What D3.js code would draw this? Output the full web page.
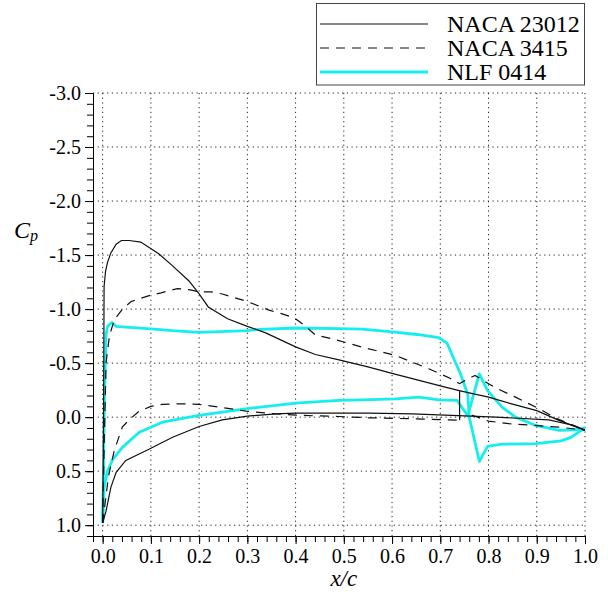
<!DOCTYPE html>
<html>
<head>
<meta charset="utf-8">
<script src="https://cdn.jsdelivr.net/npm/d3@7"></script>
<style>
  html, body { margin: 0; padding: 0; background: #fff; }
  svg { display: block; }
  text { font-family: "Liberation Serif", "Times New Roman", serif; fill: #000; }
</style>
</head>
<body>
<svg id="chart" width="608" height="596"></svg>
<script>
// ---------- data ----------
const seriesNames = ["NACA 23012", "NACA 3415", "NLF 0414"];

const naca23012Upper = [[0.0,0.98],[0.0015,0.3],[0.003,-1.21],[0.006,-1.35],[0.01,-1.43],[0.017,-1.52],[0.028,-1.60],[0.039,-1.635],[0.055,-1.635],[0.079,-1.62],[0.117,-1.51],[0.145,-1.40],[0.179,-1.26],[0.2,-1.14],[0.219,-1.02],[0.259,-0.91],[0.3,-0.84],[0.338,-0.78],[0.4,-0.65],[0.441,-0.58],[0.49,-0.53],[0.55,-0.465],[0.6,-0.405],[0.652,-0.345],[0.7,-0.29],[0.739,-0.245],[0.8,-0.185],[0.85,-0.12],[0.9,-0.06],[0.946,0.03],[1.0,0.12]];
const naca23012Lower = [[0.0,0.98],[0.007,0.87],[0.017,0.65],[0.028,0.51],[0.048,0.40],[0.097,0.295],[0.145,0.186],[0.2,0.087],[0.248,0.025],[0.3,-0.01],[0.359,-0.03],[0.4,-0.037],[0.49,-0.037],[0.552,-0.037],[0.642,-0.03],[0.737,-0.015],[0.815,0.0],[0.925,0.025],[0.97,0.07],[1.0,0.12]];
const naca23012Step = [[0.74,-0.245],[0.74,0.028]];

const naca3415Upper = [[0.0,0.98],[0.003,0.3],[0.007,-0.5],[0.014,-0.75],[0.024,-0.9],[0.041,-1.0],[0.059,-1.07],[0.1,-1.13],[0.121,-1.15],[0.155,-1.19],[0.179,-1.18],[0.2,-1.16],[0.224,-1.16],[0.248,-1.14],[0.3,-1.07],[0.345,-0.99],[0.369,-0.96],[0.397,-0.92],[0.421,-0.84],[0.441,-0.76],[0.476,-0.725],[0.538,-0.648],[0.607,-0.571],[0.676,-0.448],[0.72,-0.36],[0.74,-0.31],[0.755,-0.35],[0.772,-0.385],[0.80,-0.31],[0.815,-0.27],[0.856,-0.185],[0.905,-0.077],[0.94,0.01],[1.0,0.12]];
const naca3415Lower = [[0.0,0.98],[0.012,0.55],[0.024,0.31],[0.041,0.09],[0.055,0.025],[0.076,-0.056],[0.1,-0.1],[0.124,-0.118],[0.166,-0.124],[0.2,-0.118],[0.241,-0.093],[0.297,-0.056],[0.359,-0.03],[0.414,-0.016],[0.49,-0.006],[0.552,0.006],[0.642,0.015],[0.74,0.028]];
const naca3415LowerAft = [[0.765,-0.02],[0.80,0.037],[0.842,0.06],[0.946,0.093],[1.0,0.12]];

const nlf0414Upper = [[0.0,0.98],[0.004,-0.2],[0.007,-0.76],[0.01,-0.84],[0.019,-0.876],[0.028,-0.84],[0.055,-0.83],[0.1,-0.817],[0.145,-0.8],[0.2,-0.785],[0.3,-0.8],[0.317,-0.81],[0.4,-0.825],[0.49,-0.82],[0.538,-0.815],[0.6,-0.79],[0.652,-0.765],[0.697,-0.735],[0.714,-0.685],[0.728,-0.54],[0.742,-0.4],[0.757,-0.21],[0.760,0.0],[0.781,0.41],[0.798,0.27],[0.828,0.25],[0.898,0.245],[0.95,0.22],[0.97,0.19],[1.0,0.10]];
const nlf0414Lower = [[0.0,0.98],[0.003,0.65],[0.01,0.5],[0.021,0.39],[0.041,0.28],[0.076,0.14],[0.124,0.047],[0.2,-0.016],[0.3,-0.078],[0.4,-0.13],[0.49,-0.155],[0.538,-0.16],[0.607,-0.17],[0.656,-0.185],[0.697,-0.16],[0.735,-0.155],[0.757,-0.01],[0.766,-0.16],[0.781,-0.40],[0.798,-0.245],[0.828,-0.093],[0.856,0.0],[0.898,0.077],[0.946,0.123],[0.98,0.117],[1.0,0.10]];

const xMajorTicks = [0.0,0.1,0.2,0.3,0.4,0.5,0.6,0.7,0.8,0.9,1.0];
const yMajorTicks = [-3.0,-2.5,-2.0,-1.5,-1.0,-0.5,0.0,0.5,1.0];
const xTickLabels = ["0.0","0.1","0.2","0.3","0.4","0.5","0.6","0.7","0.8","0.9","1.0"];
const yTickLabels = ["-3.0","-2.5","-2.0","-1.5","-1.0","-0.5","0.0","0.5","1.0"];

// ---------- layout ----------
const svg = d3.select("#chart");
const L = 93, R = 585, T = 93, B = 536;
const x = d3.scaleLinear().domain([-0.02, 1.0]).range([L, R]);
const y = d3.scaleLinear().domain([-3.0, 1.1]).range([T, B]);

const xMinor = d3.range(-1, 51).map(i => +(i * 0.02).toFixed(2));
const yMinor = d3.range(-30, 12).map(i => +(i * 0.1).toFixed(1));

// grid
const grid = svg.append("g").attr("stroke", "#222").attr("stroke-width", 1)
  .attr("stroke-dasharray", "1.2,3.5").attr("fill", "none");
xMajorTicks.forEach(v => {
  grid.append("line").attr("x1", x(v)).attr("x2", x(v)).attr("y1", T).attr("y2", B);
});
yMajorTicks.forEach(v => {
  grid.append("line").attr("x1", L).attr("x2", R).attr("y1", y(v)).attr("y2", y(v));
});

// axes
const xAxisMinor = d3.axisBottom(x).tickValues(xMinor).tickSize(6).tickSizeOuter(0).tickFormat("");
const xAxisMajor = d3.axisBottom(x).tickValues(xMajorTicks).tickSize(8).tickSizeOuter(0)
  .tickFormat((d, i) => xTickLabels[i]).tickPadding(5);
const yAxisMinor = d3.axisLeft(y).tickValues(yMinor).tickSize(6).tickSizeOuter(0).tickFormat("");
const yAxisMajor = d3.axisLeft(y).tickValues(yMajorTicks).tickSize(8).tickSizeOuter(0)
  .tickFormat((d, i) => yTickLabels[i]).tickPadding(4);

function styleAxis(g) {
  g.selectAll("path, line").attr("stroke", "#000").attr("stroke-width", 1);
  g.selectAll("text").style("font-family", "'Liberation Serif', serif").style("font-size", "20px").attr("fill", "#000");
}
svg.append("g").attr("transform", `translate(0,${B})`).call(xAxisMinor).call(styleAxis);
svg.append("g").attr("transform", `translate(0,${B})`).call(xAxisMajor).call(styleAxis);
svg.append("g").attr("transform", `translate(${L},0)`).call(yAxisMinor).call(styleAxis);
svg.append("g").attr("transform", `translate(${L},0)`).call(yAxisMajor).call(styleAxis);

// series
const line = d3.line().x(d => x(d[0])).y(d => y(d[1]));
const plot = svg.append("g").attr("fill", "none");
const cyan = "#14eeee";
[nlf0414Upper, nlf0414Lower].forEach(d => {
  plot.append("path").attr("d", line(d)).attr("stroke", cyan).attr("stroke-width", 2.8)
    .attr("stroke-linejoin", "round");
});
[naca3415Upper, naca3415Lower, naca3415LowerAft].forEach(d => {
  plot.append("path").attr("d", line(d)).attr("stroke", "#111").attr("stroke-width", 1.2)
    .attr("stroke-dasharray", "9,7");
});
[naca23012Upper, naca23012Lower, naca23012Step].forEach(d => {
  plot.append("path").attr("d", line(d)).attr("stroke", "#111").attr("stroke-width", 1.2);
});

// axis titles
const cp = svg.append("text").attr("x", 14).attr("y", 238)
  .style("font-size", "24px").style("font-style", "italic");
cp.append("tspan").text("C");
cp.append("tspan").attr("dy", 3).style("font-size", "16px").text("p");
svg.append("text").attr("x", (x(0) + x(1)) / 2).attr("y", 586).attr("text-anchor", "middle")
  .style("font-size", "23px").style("font-style", "italic").text("x/c");

// legend
const lg = svg.append("g");
lg.append("rect").attr("x", 316.5).attr("y", 3.5).attr("width", 268).attr("height", 81.5)
  .attr("fill", "#fff").attr("stroke", "#444").attr("stroke-width", 1);
const legendStyles = [
  {stroke: "#111", width: 1.2, dash: null},
  {stroke: "#111", width: 1.2, dash: "9,7"},
  {stroke: cyan, width: 2.8, dash: null}
];
seriesNames.forEach((name, i) => {
  const cy = 24 + i * 24;
  const s = legendStyles[i];
  lg.append("line").attr("x1", 320).attr("x2", 428).attr("y1", cy).attr("y2", cy)
    .attr("stroke", s.stroke).attr("stroke-width", s.width).attr("stroke-dasharray", s.dash);
  lg.append("text").attr("x", 447).attr("y", cy + 8).style("font-size", "24px").text(name);
});
</script>
</body>
</html>
